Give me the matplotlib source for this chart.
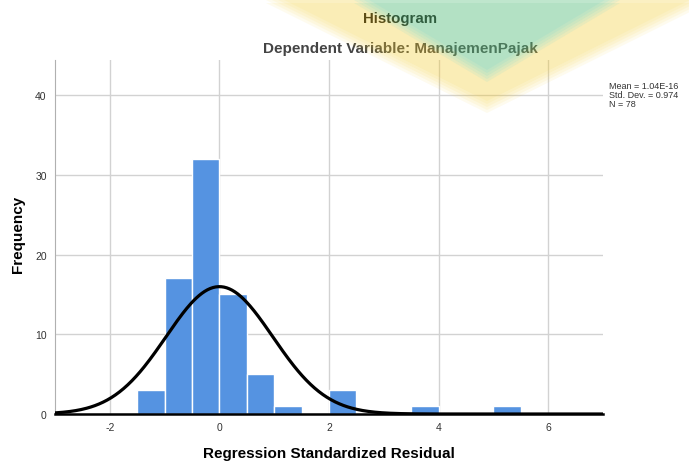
import numpy as np
import matplotlib
matplotlib.use("Agg")
import matplotlib.pyplot as plt
from matplotlib.patches import Polygon

# -----------------------------
# Данные
# -----------------------------
bin_left = [-1.5, -1.0, -0.5, 0.0, 0.5, 1.0, 2.0, 3.5, 5.0]
counts = [3, 17, 32, 15, 5, 1, 3, 1, 1]
bin_width = 0.5

mean = 1.04e-16
std = 0.974
n = 78

x_ticks = [-2, 0, 2, 4, 6]
y_ticks = [0, 10, 20, 30, 40]

plt.rcParams["font.family"] = ["Liberation Sans", "DejaVu Sans"]
plt.rcParams["axes.unicode_minus"] = False

fig = plt.figure(figsize=(6.89, 4.64), dpi=100)
ax = fig.add_axes([55 / 689, 1 - 415 / 464, 548 / 689, 354 / 464])
ax.set_facecolor("none")

ax.bar(bin_left, counts, width=bin_width, align="edge",
       color="#5593e1", edgecolor="white", linewidth=1.0, zorder=2)

xs = np.linspace(-3, 7, 400)
curve = n * bin_width / (std * np.sqrt(2 * np.pi)) * np.exp(-0.5 * ((xs - mean) / std) ** 2)
ax.plot(xs, curve, color="black", linewidth=2.3, zorder=3)

ax.set_xlim(-3, 7)
ax.set_ylim(0, 44.4)
ax.set_xticks(x_ticks)
ax.set_yticks(y_ticks)
ax.tick_params(length=0, labelsize=7.5, colors="#333333", pad=6)
ax.grid(True, color="#d2d2d2", linewidth=1.0, zorder=0)
ax.set_axisbelow(True)

for side in ["top", "right"]:
    ax.spines[side].set_visible(False)
ax.spines["left"].set_color("#b0b0b0")
ax.spines["bottom"].set_color("black")
ax.spines["bottom"].set_linewidth(1.8)

ax.set_xlabel("Regression Standardized Residual", fontsize=11, fontweight="bold")
ax.set_ylabel("Frequency", fontsize=11, fontweight="bold")
ax.xaxis.set_label_coords(0.5, -32 / 354)
ax.yaxis.set_label_coords(-30 / 548, 0.51)

fig.text(400 / 689, 1 - 19 / 464, "Histogram", ha="center", va="center",
         fontsize=10.8, fontweight="bold", color="#111111")
fig.text(400 / 689, 1 - 49 / 464, "Dependent Variable: ManajemenPajak",
         ha="center", va="center", fontsize=11, fontweight="bold", color="#444444")

fig.text(609 / 689, 1 - 82 / 464, "Mean = 1.04E-16\nStd. Dev. = 0.974\nN = 78",
         ha="left", va="top", fontsize=6.5, color="#333333", linespacing=1.0)

# -----------------------------
# Водяной знак (логотип), размытые края слоями
# -----------------------------
def fig_xy(pts, dy):
    return [(x / 689, 1 - (y + dy) / 464) for x, y in pts]

yellow_pts = [(266, -2), (487, 108), (708, -2), (620, -2), (487, 77), (354, -2)]
green_pts = [(354, -2), (620, -2), (487, 77)]

layers = [-6, -3, 0, 3, 6]
for dy in layers:
    fig.patches.append(Polygon(fig_xy(yellow_pts, dy), closed=True, transform=fig.transFigure,
                               facecolor=(247 / 255, 207 / 255, 42 / 255), alpha=0.08,
                               edgecolor="none", zorder=10))
    fig.patches.append(Polygon(fig_xy(green_pts, dy), closed=True, transform=fig.transFigure,
                               facecolor=(90 / 255, 193 / 255, 126 / 255), alpha=0.11,
                               edgecolor="none", zorder=10))

plt.savefig("out.png", dpi=100)
plt.close()
